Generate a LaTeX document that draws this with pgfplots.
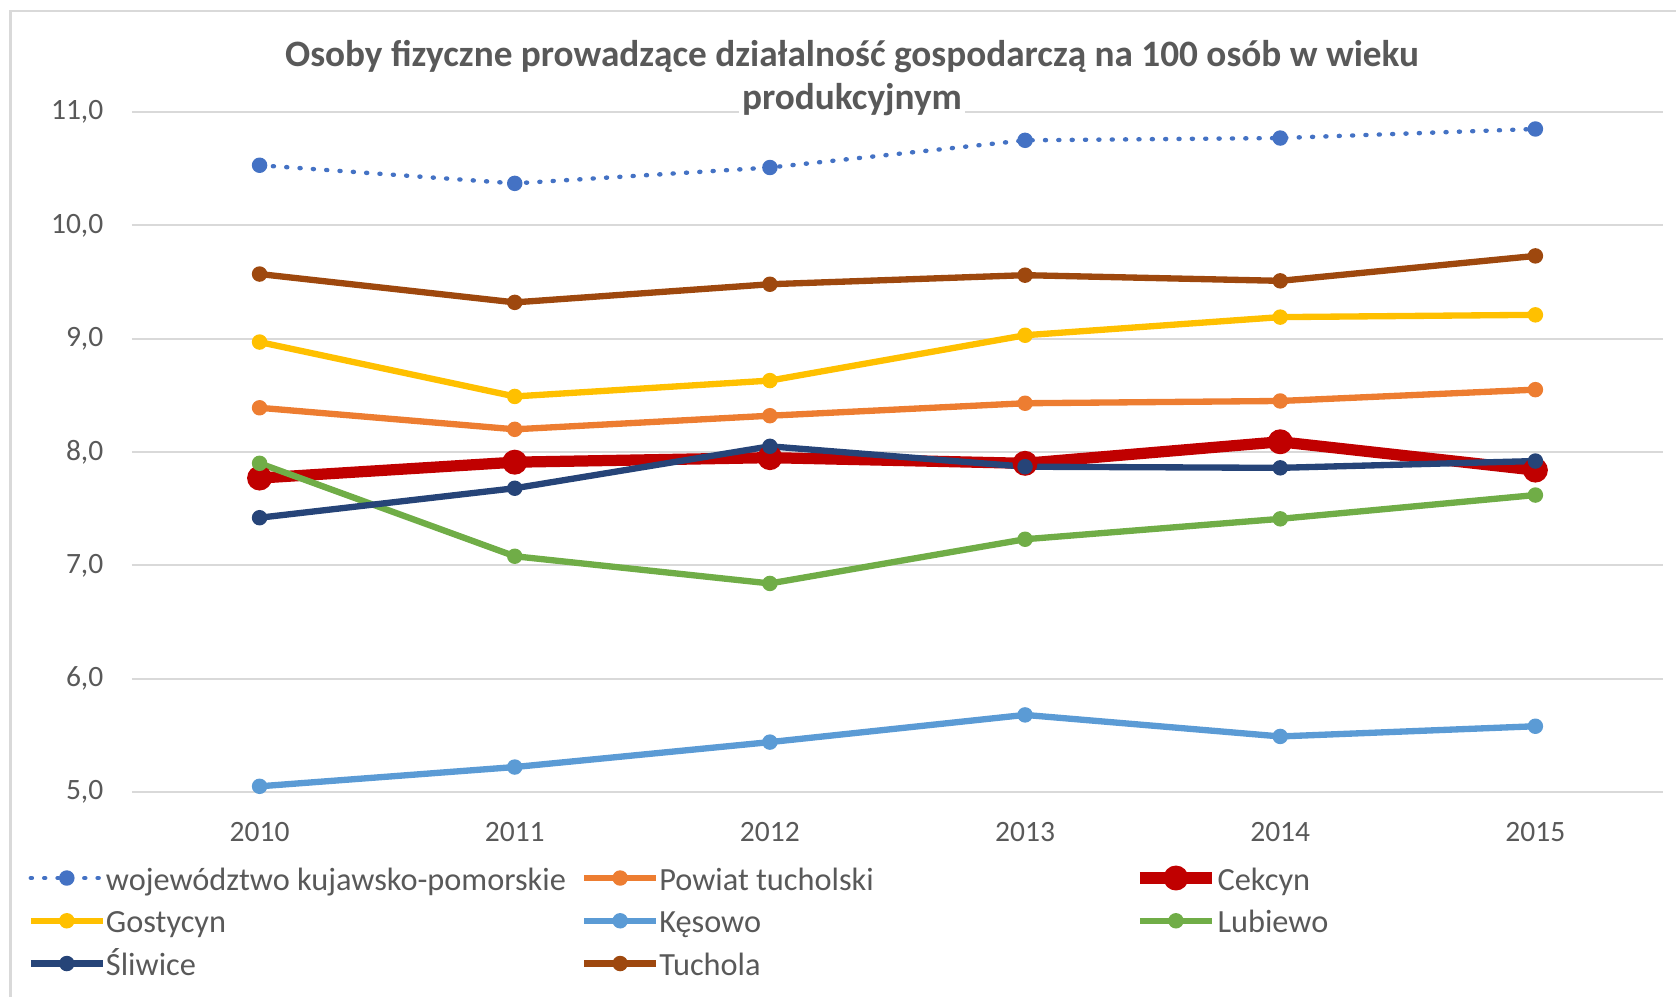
\documentclass[border=0pt]{standalone}
\usepackage{fontspec}
\setmainfont{Carlito}
\usepackage{pgfplots}
\pgfplotsset{compat=1.18}

\definecolor{cWoj}{HTML}{4472C4}
\definecolor{cPow}{HTML}{ED7D31}
\definecolor{cCek}{HTML}{C00000}
\definecolor{cGos}{HTML}{FFC000}
\definecolor{cKes}{HTML}{5B9BD5}
\definecolor{cLub}{HTML}{70AD47}
\definecolor{cSli}{HTML}{264478}
\definecolor{cTuc}{HTML}{9E480E}
\definecolor{txt}{HTML}{595959}
\definecolor{gridc}{HTML}{D9D9D9}

% fixed-width legend text so the three columns line up like Excel
\newcommand{\leg}[1]{\makebox[4.75cm][l]{\strut #1}}

\begin{document}
\begin{tikzpicture}
\useasboundingbox (0,0) rectangle (16.76cm,9.97cm);
\draw[gridc, line width=0.6pt] (0.105cm,-1cm) |- (18cm,9.86cm);
\begin{axis}[
  at={(1.32cm,2.05cm)}, anchor=south west,
  scale only axis, width=15.31cm, height=6.80cm,
  xmin=2009.5, xmax=2015.5, ymin=5, ymax=11,
  xtick={2010,2011,2012,2013,2014,2015},
  xticklabels={2010,2011,2012,2013,2014,2015},
  ytick={5,6,7,8,9,10,11},
  axis line style={draw=none}, tick style={draw=none},
  ymajorgrids, grid style={gridc, line width=0.6pt},
  clip=false,
  ticklabel style={font=\fontsize{8.4}{10}\selectfont, text=txt},
  yticklabel style={anchor=east, inner sep=0pt, xshift=-0.28cm,
    /pgf/number format/fixed, /pgf/number format/fixed zerofill,
    /pgf/number format/precision=1, /pgf/number format/use comma,
    /pgf/number format/assume math mode=true},
  xticklabel style={anchor=north, inner sep=0pt, yshift=-0.30cm},
  every axis plot/.append style={line width=1.8pt, line join=round},
  legend image code/.code={\draw[mark repeat=2,mark phase=2,#1]
    plot coordinates {(0cm,0cm) (0.36cm,0cm) (0.72cm,0cm)};},
  legend columns=3,
  legend style={at={(-0.0686,-0.1)}, anchor=north west, draw=none, fill=none,
    inner sep=0pt, font=\fontsize{9.2}{11.95}\selectfont, text=txt,
    nodes={inner sep=0pt}, cells={anchor=west}, row sep=2.3pt,
    /tikz/every odd column/.style={column sep=0pt},
    /tikz/every even column/.style={column sep=0pt}},
]
\addplot[cWoj, line width=1.25pt, line cap=round, dash pattern=on 0.3pt off 3.5pt,
  mark=*, mark size=2.0pt, mark options={solid, fill=cWoj, line width=0.4pt}]
  coordinates {(2010,10.53) (2011,10.37) (2012,10.51) (2013,10.75) (2014,10.77) (2015,10.85)};
\addlegendentry{\leg{województwo kujawsko-pomorskie}}
\addplot[cPow, mark=*, mark size=2.0pt, mark options={solid, fill=cPow, line width=0.4pt}]
  coordinates {(2010,8.39) (2011,8.20) (2012,8.32) (2013,8.43) (2014,8.45) (2015,8.55)};
\addlegendentry{\leg{Powiat tucholski}}
\addplot[cCek, line width=3.2pt, mark=*, mark size=3.35pt, mark options={solid, fill=cCek, line width=0.4pt}]
  coordinates {(2010,7.77) (2011,7.91) (2012,7.95) (2013,7.90) (2014,8.09) (2015,7.84)};
\addlegendentry{\leg{Cekcyn}}
\addplot[cGos, mark=*, mark size=2.0pt, mark options={solid, fill=cGos, line width=0.4pt}]
  coordinates {(2010,8.97) (2011,8.49) (2012,8.63) (2013,9.03) (2014,9.19) (2015,9.21)};
\addlegendentry{\leg{Gostycyn}}
\addplot[cKes, mark=*, mark size=2.0pt, mark options={solid, fill=cKes, line width=0.4pt}]
  coordinates {(2010,5.05) (2011,5.22) (2012,5.44) (2013,5.68) (2014,5.49) (2015,5.58)};
\addlegendentry{\leg{Kęsowo}}
\addplot[cLub, mark=*, mark size=2.0pt, mark options={solid, fill=cLub, line width=0.4pt}]
  coordinates {(2010,7.90) (2011,7.08) (2012,6.84) (2013,7.23) (2014,7.41) (2015,7.62)};
\addlegendentry{\leg{Lubiewo}}
\addplot[cSli, mark=*, mark size=2.0pt, mark options={solid, fill=cSli, line width=0.4pt}]
  coordinates {(2010,7.42) (2011,7.68) (2012,8.05) (2013,7.87) (2014,7.86) (2015,7.92)};
\addlegendentry{\leg{Śliwice}}
\addplot[cTuc, mark=*, mark size=2.0pt, mark options={solid, fill=cTuc, line width=0.4pt}]
  coordinates {(2010,9.57) (2011,9.32) (2012,9.48) (2013,9.56) (2014,9.51) (2015,9.73)};
\addlegendentry{\leg{Tuchola}}

\node[anchor=base, text=txt, font=\fontsize{10.6}{12.1}\selectfont\bfseries]
  at (rel axis cs:0.4703,1.0662) {Osoby fizyczne prowadzące działalność gospodarczą na 100 osób w wieku};
\node[anchor=base, text=txt, fill=white, inner sep=1pt, font=\fontsize{10.6}{12.1}\selectfont\bfseries]
  at (rel axis cs:0.4703,1.0037) {produkcyjnym};
\end{axis}
\end{tikzpicture}
\end{document}
